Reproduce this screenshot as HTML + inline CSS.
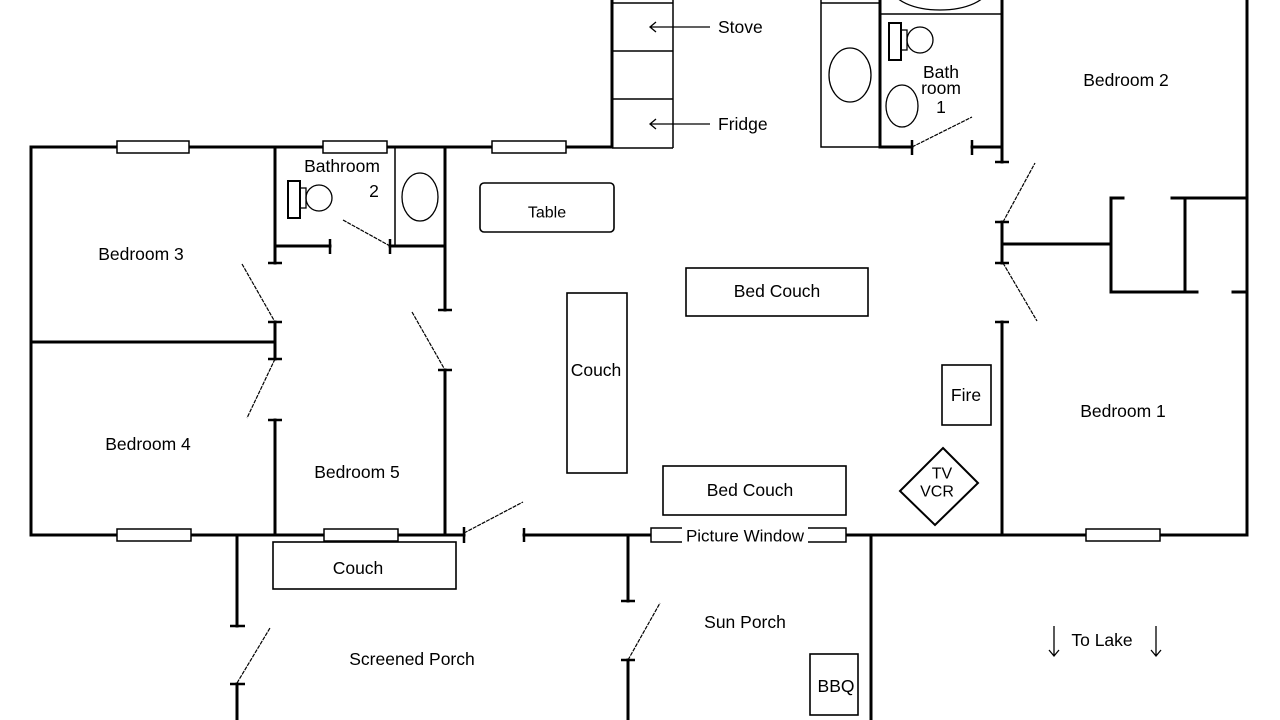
<!DOCTYPE html>
<html><head><meta charset="utf-8"><style>
html,body{margin:0;padding:0;background:#fff;}
svg{display:block;}
text{font-family:"Liberation Sans",sans-serif;font-size:17.5px;fill:#000;}
</style></head><body>
<svg width="1280" height="720" viewBox="0 0 1280 720" xmlns="http://www.w3.org/2000/svg">
<rect width="1280" height="720" fill="#fff"/>
<!-- thin lines -->
<g stroke="#000" stroke-width="1.5" fill="none">
  <!-- kitchen counter -->
  <path d="M673 0 V148 M612 3 H673 M612 51 H673 M612 99 H673 M612 148 H673"/>
  <!-- closet near bath1 -->
  <path d="M821 0 V147 H880 M821 3 H880"/>
  <path d="M880 14 H1002"/>
  <!-- bath2 tub partition -->
  <path d="M395 147 V246"/>
</g>
<!-- ovals -->
<g stroke="#000" stroke-width="1.3" fill="none">
  <ellipse cx="420" cy="197" rx="18" ry="24"/>
  <ellipse cx="850" cy="75" rx="21" ry="27"/>
  <ellipse cx="902" cy="106" rx="16" ry="21"/>
  <ellipse cx="940" cy="-12" rx="48" ry="22"/>
  <!-- toilets -->
  <circle cx="319" cy="198" r="13"/>
  <rect x="300" y="188" width="6" height="20"/>
  <circle cx="920" cy="40" r="13"/>
  <rect x="901" y="30" width="6" height="20"/>
</g>
<g stroke="#000" stroke-width="2" fill="#fff">
  <rect x="288" y="181" width="12" height="37"/>
  <rect x="889" y="23" width="12" height="37"/>
</g>
<!-- walls -->
<g stroke="#000" stroke-width="3" fill="none" stroke-linecap="square">
  <path d="M612 0 V147 H31 V535 H464"/>
  <path d="M31 342 H275"/>
  <path d="M275 147 V263 M275 322 V359 M275 420 V535"/>
  <path d="M275 246 H330 M390 246 H445"/>
  <path d="M445 147 V310 M445 370 V535"/>
  <path d="M524 535 H1247 V0"/>
  <path d="M1002 0 V162 M1002 222 V263 M1002 322 V535"/>
  <path d="M1002 244 H1111"/>
  <path d="M1123 198 H1111 V292 H1197 M1185 198 V292 M1172 198 H1247 M1233 292 H1247"/>
  <path d="M880 0 V147 H912 M972 147 H1002"/>
  <path d="M237 535 V626 M237 684 V720"/>
  <path d="M628 535 V601 M628 660 V720"/>
  <path d="M871 535 V720"/>
</g>
<!-- T caps -->
<g stroke="#000" stroke-width="2.5" fill="none">
  <path d="M268 263 H282 M268 322 H282 M268 359 H282 M268 420 H282"/>
  <path d="M330 239 V254 M390 239 V254"/>
  <path d="M438 310 H452 M438 370 H452"/>
  <path d="M464 527 V543 M524 528 V542"/>
  <path d="M230 626 H245 M230 684 H245"/>
  <path d="M621 601 H635 M621 660 H635"/>
  <path d="M912 140 V155 M972 140 V155"/>
  <path d="M995 162 H1009 M995 222 H1009 M995 263 H1009 M995 322 H1009"/>
</g>
<!-- door swings -->
<g stroke="#000" stroke-width="1.2" fill="none" stroke-dasharray="4 1">
  <path d="M343 220 L390 246"/>
  <path d="M242 264 L275 322"/>
  <path d="M412 312 L445 370"/>
  <path d="M275 359 L247 418"/>
  <path d="M464 533 L523 502"/>
  <path d="M237 683 L270 628"/>
  <path d="M628 660 L660 603"/>
  <path d="M912 147 L972 117"/>
  <path d="M1003 222 L1035 163"/>
  <path d="M1003 263 L1037 321"/>
</g>
<!-- windows -->
<g stroke="#000" stroke-width="1.5" fill="#fff">
  <rect x="117" y="141" width="72" height="12"/>
  <rect x="323" y="141" width="64" height="12"/>
  <rect x="492" y="141" width="74" height="12"/>
  <rect x="117" y="529" width="74" height="12"/>
  <rect x="324" y="529" width="74" height="12"/>
  <rect x="1086" y="529" width="74" height="12"/>
  <rect x="651" y="528" width="195" height="14"/>
</g>
<rect x="682" y="527" width="126" height="17" fill="#fff"/>
<!-- furniture -->
<g stroke="#000" stroke-width="1.6" fill="none">
  <rect x="480" y="183" width="134" height="49" rx="4"/>
  <rect x="567" y="293" width="60" height="180"/>
  <rect x="686" y="268" width="182" height="48"/>
  <rect x="663" y="466" width="183" height="49"/>
  <rect x="942" y="365" width="49" height="60"/>
  <rect x="810" y="654" width="48" height="61"/>
  <rect x="273" y="542" width="183" height="47"/>
  <polygon points="943,448 978,483 935,525 900,491" stroke-width="2"/>
</g>
<!-- arrows -->
<g stroke="#000" stroke-width="1.3" fill="none">
  <path d="M650 27 H710 M656 22 L650 27 L656 32"/>
  <path d="M650 124 H710 M656 119 L650 124 L656 129"/>
  <path d="M1054 626 V656 M1049 650 L1054 656 L1059 650"/>
  <path d="M1156 626 V656 M1151 650 L1156 656 L1161 650"/>
</g>
<!-- labels -->
<g dominant-baseline="central">
  <text x="718" y="27">Stove</text>
  <text x="718" y="124">Fridge</text>
  <text x="941" y="72" text-anchor="middle">Bath</text>
  <text x="941" y="88" text-anchor="middle">room</text>
  <text x="941" y="107" text-anchor="middle">1</text>
  <text x="1126" y="80" text-anchor="middle">Bedroom 2</text>
  <text x="342" y="166" text-anchor="middle">Bathroom</text>
  <text x="374" y="191" text-anchor="middle">2</text>
  <text x="141" y="254" text-anchor="middle">Bedroom 3</text>
  <text x="547" y="213" text-anchor="middle" style="font-size:16px">Table</text>
  <text x="777" y="291" text-anchor="middle">Bed Couch</text>
  <text x="596" y="370" text-anchor="middle">Couch</text>
  <text x="966" y="395" text-anchor="middle">Fire</text>
  <text x="1123" y="411" text-anchor="middle">Bedroom 1</text>
  <text x="148" y="444" text-anchor="middle">Bedroom 4</text>
  <text x="357" y="472" text-anchor="middle">Bedroom 5</text>
  <text x="750" y="490" text-anchor="middle">Bed Couch</text>
  <text x="942" y="474" text-anchor="middle" style="font-size:16px">TV</text>
  <text x="937" y="492" text-anchor="middle" style="font-size:16px">VCR</text>
  <text x="745" y="536" text-anchor="middle" style="font-size:17px">Picture Window</text>
  <text x="358" y="568" text-anchor="middle">Couch</text>
  <text x="745" y="622" text-anchor="middle">Sun Porch</text>
  <text x="412" y="659" text-anchor="middle">Screened Porch</text>
  <text x="836" y="686" text-anchor="middle">BBQ</text>
  <text x="1102" y="640" text-anchor="middle">To Lake</text>
</g>
</svg>
</body></html>
